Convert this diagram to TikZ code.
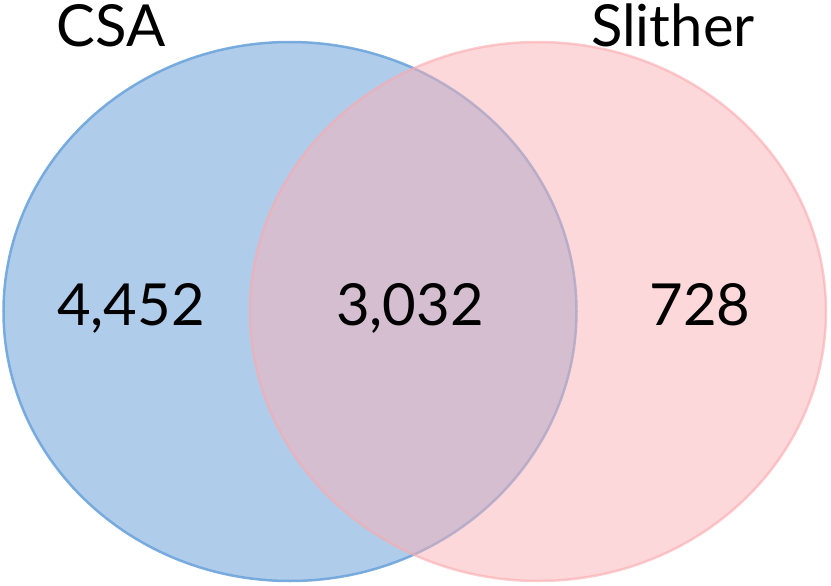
\documentclass[tikz,border=0pt]{standalone}
\usepackage{fontspec}
\setmainfont{Lato}
\definecolor{csafill}{RGB}{95,155,215}
\definecolor{csaline}{RGB}{110,165,220}
\definecolor{slfill}{RGB}{251,177,181}
\definecolor{slline}{RGB}{250,170,175}
\tikzset{
  venntext/.style={font=\fontsize{58}{62}\selectfont, text=black, anchor=base, inner sep=0pt},
  csaset/.style={fill=csafill, fill opacity=0.5, draw=csaline, draw opacity=0.9, line width=2.5pt},
  slset/.style={fill=slfill, fill opacity=0.5, draw=slline, draw opacity=0.6, line width=2.5pt}
}
\begin{document}
\begin{tikzpicture}[x=1pt,y=-1pt]
\useasboundingbox (0,0) rectangle (831,586);
\draw[csaset] (290,311.5) ellipse [x radius=286.5, y radius=269.5];
\draw[slset] (538,311.5) ellipse [x radius=288, y radius=269.5];
\node[venntext] (csa) at (111,47) {CSA};
\node[venntext] (sl) at (673,47) {Slither};
\node[venntext] (a) at (131,325) {4,452};
\node[venntext] (b) at (410,325) {3,032};
\node[venntext] (c) at (700,325) {728};
\end{tikzpicture}
\end{document}
